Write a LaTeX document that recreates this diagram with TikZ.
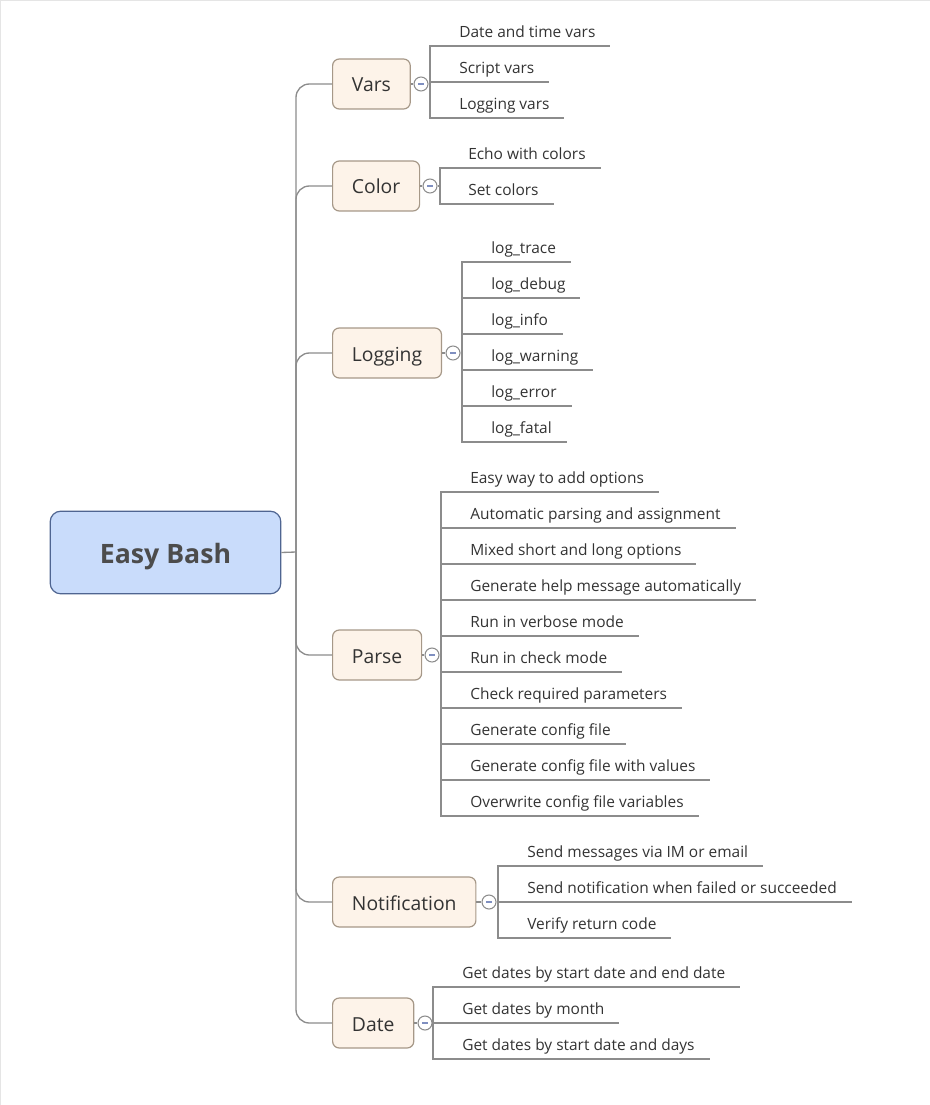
\documentclass[tikz,border=0pt]{standalone}
\usepackage{fontspec}
\setmainfont{Open Sans}
\usetikzlibrary{calc}

\definecolor{rootfill}{HTML}{C9DCFB}
\definecolor{rootline}{HTML}{4F6591}
\definecolor{topicfill}{HTML}{FDF3E9}
\definecolor{topicline}{HTML}{A69888}
\definecolor{linkgray}{HTML}{8C8C8C}
\definecolor{inkgray}{HTML}{333333}
\definecolor{folddash}{HTML}{7F8FC0}

\tikzset{
  root/.style={draw=rootline, fill=rootfill, line width=0.9pt, rounded corners=8pt,
    minimum width=173pt, minimum height=62pt, text height=21.2pt, text depth=4.8pt,
    font=\fontsize{20}{24}\selectfont\bfseries, text=black!70},
  topic/.style={draw=topicline, fill=topicfill, line width=0.9pt, rounded corners=5pt,
    anchor=west, minimum height=37.5pt, inner xsep=14.5pt, text height=15pt, text depth=3pt,
    font=\fontsize{14.5}{17}\selectfont, text=inkgray},
  fold/.style={circle, draw=linkgray, fill=white, line width=0.8pt, minimum size=10.5pt, inner sep=0pt,
    path picture={\draw[folddash, line width=1pt]
      ([xshift=-2.2pt]path picture bounding box.center) -- ([xshift=2.2pt]path picture bounding box.center);}},
  leaf/.style={anchor=south west, inner xsep=0pt, inner ysep=0pt, text depth=6pt,
    font=\fontsize{11.6}{14}\selectfont, text=inkgray},
  link/.style={draw=linkgray, line width=1pt},
}

\begin{document}
\begin{tikzpicture}[x=0.75pt, y=-0.75pt]

\useasboundingbox (0,0) rectangle (930,1105);

% screen edge
\draw[black!10] (0.5,1105) -- (0.5,0.5) -- (930,0.5);

% central topic
\node[root] (root) at (165.5,552.5) {Easy Bash};
\coordinate (hub) at (296,552);
\draw[link] (root.east) -- (hub);

% main topics
\node[topic] (vars) at (332,84) {Vars};
\node[topic] (color) at (332,186) {Color};
\node[topic] (logging) at (332,353) {Logging};
\node[topic] (parse) at (332,655) {Parse};
\node[topic] (notify) at (332,902) {Notification};
\node[topic] (date) at (332,1023) {Date};

\foreach \t in {vars, color, logging, parse, notify, date}
  \draw[link, rounded corners=10pt] (hub) |- (\t.west);

% fold buttons and junctions
\node[fold] (vars-c) at (421,84) {};
\node[fold] (color-c) at (430,186) {};
\node[fold] (logging-c) at (453,353) {};
\node[fold] (parse-c) at (432,655) {};
\node[fold] (notify-c) at (489,902) {};
\node[fold] (date-c) at (425,1023) {};

\coordinate (vars-j) at (430,84);
\coordinate (color-j) at (440,186);
\coordinate (logging-j) at (462,353);
\coordinate (parse-j) at (441,655);
\coordinate (notify-j) at (498,902);
\coordinate (date-j) at (433,1023);

\foreach \t in {vars, color, logging, parse, notify, date}
  \draw[link] (\t.east) -- (\t-c.west) (\t-c.east) -- (\t-j);

% subtopics
\foreach \s [count=\i] in {Date and time vars, Script vars, Logging vars} {
  \node[leaf] (vars-\i) at (459,10+36*\i) {\s};
  \draw[link] (vars-j) |- ([xshift=11pt]vars-\i.south east);
}

\foreach \s [count=\i] in {Echo with colors, Set colors} {
  \node[leaf] (color-\i) at (468,132+36*\i) {\s};
  \draw[link] (color-j) |- ([xshift=11pt]color-\i.south east);
}

\foreach \s [count=\i] in {log\_trace, log\_debug, log\_info, log\_warning, log\_error, log\_fatal} {
  \node[leaf] (logging-\i) at (491,226+36*\i) {\s};
  \draw[link] (logging-j) |- ([xshift=11pt]logging-\i.south east);
}

\foreach \s [count=\i] in {Easy way to add options, Automatic parsing and assignment,
    Mixed short and long options, Generate help message automatically,
    Run in verbose mode, Run in check mode, Check required parameters,
    Generate config file, Generate config file with values, Overwrite config file variables} {
  \node[leaf] (parse-\i) at (470,456+36*\i) {\s};
  \draw[link] (parse-j) |- ([xshift=11pt]parse-\i.south east);
}

\foreach \s [count=\i] in {Send messages via IM or email, Send notification when failed or succeeded,
    Verify return code} {
  \node[leaf] (notify-\i) at (527,830+36*\i) {\s};
  \draw[link] (notify-j) |- ([xshift=11pt]notify-\i.south east);
}

\foreach \s [count=\i] in {Get dates by start date and end date, Get dates by month,
    Get dates by start date and days} {
  \node[leaf] (date-\i) at (462,951+36*\i) {\s};
  \draw[link] (date-j) |- ([xshift=11pt]date-\i.south east);
}

\end{tikzpicture}
\end{document}
